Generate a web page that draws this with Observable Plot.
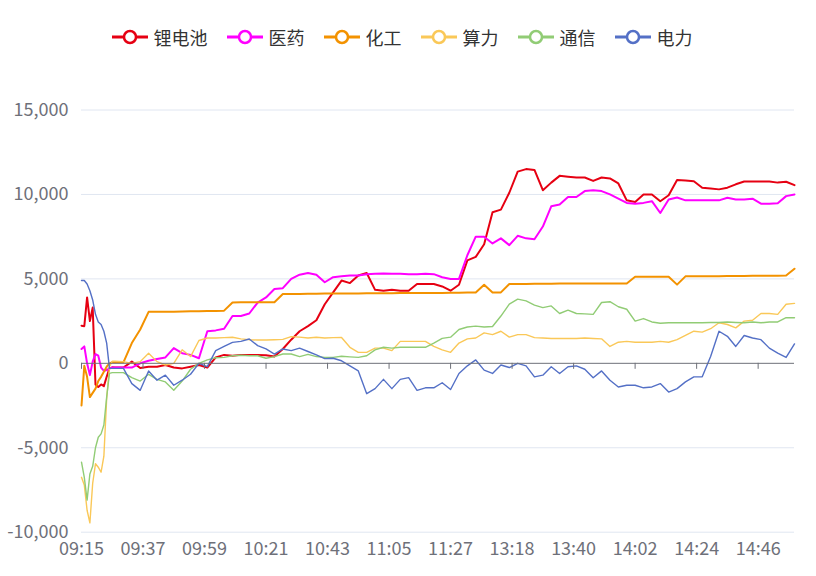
<!DOCTYPE html>
<html><head><meta charset="utf-8">
<script src="https://cdn.jsdelivr.net/npm/d3@7"></script>
<script src="https://cdn.jsdelivr.net/npm/@observablehq/plot@0.6"></script>
<style>
body{margin:0;background:#fff;font-family:"Noto Sans CJK SC","Noto Sans",sans-serif;}
#legend{height:72px;box-sizing:border-box;padding-top:2px;padding-right:12px;display:flex;justify-content:center;align-items:center;gap:19px;}
.item{display:flex;align-items:center;gap:6px;font-size:18px;color:#333;line-height:1;}
.item svg{display:block;}
</style></head><body>
<div id="legend"></div><div id="chart"></div>
<script>
// category index of each sample (09:15 = 0, one tick label every 22 categories)
const idx = [0,1,2,3,4,5,6,7,8,9,10,11,12,15,18,21,24,27,30,33,36,39,42,45,48,51,54,57,60,63,66,69,72,75,78,81,84,87,90,93,96,99,102,105,108,111,114,117,120,123,126,129,132,135,138,141,144,147,150,153,156,159,162,165,168,171,174,177,180,183,186,189,192,195,198,201,204,207,210,213,216,219,222,225,228,231,234,237,240,243,246,249,252,255];
const tickLabels = ["09:15","09:37","09:59","10:21","10:43","11:05","11:27","13:18","13:40","14:02","14:24","14:46"];
const tickIdx = [0,22,44,66,88,110,132,154,176,198,220,242];
const yTicks = [-10000,-5000,0,5000,10000,15000];

const names = ["锂电池","医药","化工","算力","通信","电力"];
const colors = ["#e60012","#ff00ff","#f39200","#fac858","#91cc75","#5470c6"];

const liDian = [2230,2200,3900,2500,3300,-1250,-1400,-1250,-1350,-800,-300,-240,-250,
 -250,100,-280,-200,-200,-100,-250,-300,-200,-100,
 -250,350,500,450,500,500,500,480,400,850,
 1400,1900,2200,2550,3500,4200,4900,4750,5200,5350,
 4350,4300,4350,4300,4300,4700,4700,4700,4550,4300,
 4650,6100,6300,7050,8950,9100,10100,11350,11500,11450,
 10250,10700,11100,11050,11000,11000,10800,11000,10950,10650,
 9650,9550,10000,10000,9600,9950,10850,10830,10780,10400,
 10350,10300,10400,10600,10770,10770,10770,10770,10700,10750,
 10550];
const yiYao = [850,1000,0,-700,100,550,450,-250,-450,-400,-300,-250,-250,
 -250,-250,0,150,250,350,900,600,500,300,
 1900,1950,2050,2800,2800,2950,3600,3900,4400,4450,
 5000,5250,5350,5250,4800,5100,5150,5200,5200,5280,
 5300,5320,5300,5300,5270,5270,5300,5280,5100,4990,
 5000,6400,7500,7500,7100,7400,7000,7550,7400,7350,
 8100,9300,9400,9850,9850,10200,10250,10200,10000,9750,
 9500,9450,9500,9600,8900,9700,9820,9650,9650,9650,
 9650,9650,9800,9700,9700,9750,9450,9450,9480,9900,
 10000];
const huaGong = [-2500,-150,-800,-2000,-1750,-1500,-1050,-800,-500,-200,0,60,60,
 60,1200,2000,3050,3050,3050,3060,3070,3080,3080,
 3100,3100,3120,3600,3610,3610,3610,3620,3620,4100,
 4100,4110,4120,4120,4130,4130,4130,4140,4140,4150,
 4150,4150,4150,4160,4160,4160,4170,4170,4170,4180,
 4180,4200,4200,4650,4200,4200,4700,4700,4700,4710,
 4710,4710,4720,4720,4720,4720,4730,4730,4730,4730,
 4730,5130,5130,5130,5130,5130,4660,5150,5150,5160,
 5160,5160,5170,5170,5170,5180,5180,5190,5190,5200,
 5600];
const suanLi = [-6750,-7200,-8700,-9450,-7100,-5950,-6150,-6450,-5500,-2100,-200,120,120,
 100,0,100,600,100,-100,0,800,400,1350,
 1500,1500,1520,1540,1450,1400,1380,1380,1400,1420,
 1580,1550,1500,1540,1500,1520,1530,950,650,650,
 900,900,750,1300,1300,1300,1300,1000,800,650,
 1200,1450,1500,1800,1700,1900,1550,1700,1700,1520,
 1500,1470,1470,1470,1470,1500,1470,1450,1000,1250,
 1300,1250,1250,1250,1300,1250,1400,1650,1900,1850,
 2050,2400,2300,2100,2500,2550,2950,2950,2900,3500,
 3550];
const tongXin = [-5850,-6750,-8100,-6550,-6100,-5000,-4380,-4180,-3650,-2000,-600,-550,-550,
 -550,-850,-1050,-650,-950,-1100,-1600,-1050,-350,0,
 200,330,350,450,480,450,450,300,400,550,
 550,400,530,400,350,350,420,380,350,450,
 800,950,900,950,950,950,950,1200,1480,1550,
 2000,2150,2200,2150,2180,2800,3500,3800,3700,3450,
 3300,3400,2950,3150,2950,2930,2900,3600,3650,3350,
 3200,2500,2650,2450,2370,2400,2400,2400,2400,2400,
 2420,2420,2450,2420,2400,2450,2400,2450,2450,2700,
 2700];
const dianLi = [4900,4900,4700,4300,3750,2900,2450,2300,1900,1200,-300,-300,-300,
 -300,-1200,-1600,-450,-1000,-700,-1300,-1000,-650,0,
 -200,750,1000,1240,1300,1440,1050,850,550,850,
 750,900,700,500,280,300,150,-150,-450,-1800,
 -1500,-950,-1500,-950,-850,-1600,-1450,-1450,-1150,-1550,
 -600,-150,200,-400,-600,-100,-250,0,-150,-800,
 -700,-200,-600,-200,-150,-350,-850,-450,-1000,-1400,
 -1300,-1300,-1450,-1400,-1200,-1700,-1500,-1100,-800,-800,
 400,1900,1600,1000,1650,1500,1400,900,600,350,
 1150];

const seriesVals = [liDian, yiYao, huaGong, suanLi, tongXin, dianLi];
const widths = [2, 2, 2, 1.4, 1.4, 1.4];

// legend
const legend = document.getElementById("legend");
names.forEach((n, i) => {
  const it = document.createElement("div");
  it.className = "item";
  it.innerHTML = `<svg width="36" height="18"><line x1="0" x2="36" y1="9" y2="9" stroke="${colors[i]}" stroke-width="3"/><circle cx="18" cy="9" r="6" fill="#fff" stroke="${colors[i]}" stroke-width="2.5"/></svg><span>${n}</span>`;
  legend.appendChild(it);
});

const H = 504, mTop = 37.5, mBottom = 44.3;
const yMin = -10000, yMax = 15000;
const tickLen = 6 * (yMax - yMin) / (H - mTop - mBottom);
const fmt = d => d3.format(",")(d).replace("\u2212", "-");

const lineMarks = seriesVals.map((vals, s) =>
  Plot.line(idx.map((x, j) => ({x, y: vals[j]})), {
    x: "x", y: "y", stroke: colors[s], strokeWidth: widths[s], strokeLinejoin: "round"
  })
);

const chart = Plot.plot({
  width: 816, height: H,
  marginLeft: 81, marginRight: 22, marginTop: mTop, marginBottom: mBottom,
  x: {domain: [0, 255], axis: null},
  y: {domain: [yMin, yMax], axis: null},
  style: {fontFamily: '"Noto Sans CJK SC","Noto Sans",sans-serif', fontSize: "18px", color: "#6E7079", background: "#fff"},
  marks: [
    Plot.ruleY(yTicks.filter(d => d !== 0), {stroke: "#E0E6F1", strokeWidth: 1}),
    Plot.axisY(yTicks, {tickSize: 0, tickPadding: 13, tickFormat: fmt, fontSize: 18, label: null}),
    Plot.axisX(tickIdx, {anchor: "bottom", tickSize: 0, tickPadding: 10, fontSize: 18, label: null,
      tickFormat: d => tickLabels[tickIdx.indexOf(d)]}),
    ...lineMarks,
    Plot.ruleY([0], {stroke: "#6E7079", strokeWidth: 1}),
    Plot.ruleX(tickIdx, {x: d => d, y1: 0, y2: -tickLen, stroke: "#6E7079"})
  ]
});
document.getElementById("chart").appendChild(chart);
</script></body></html>
